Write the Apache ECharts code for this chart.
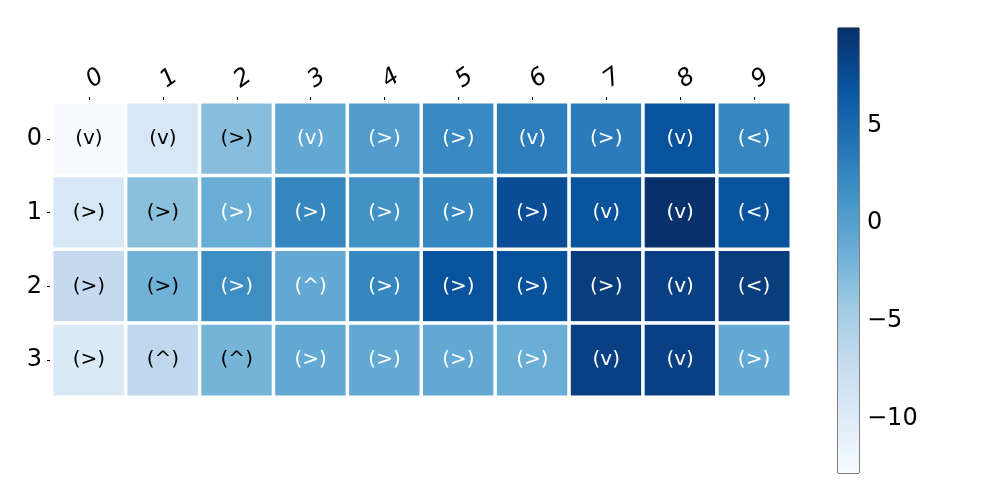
<!DOCTYPE html>
<html>
<head>
<meta charset="utf-8">
<script src="https://cdn.jsdelivr.net/npm/echarts@6/dist/echarts.min.js"></script>
<style>
  html, body { margin: 0; padding: 0; background: #fff; }
  #heat { width: 1000px; height: 500px; }
</style>
</head>
<body>
<div id="heat"></div>
<script>
var cols = ['0', '1', '2', '3', '4', '5', '6', '7', '8', '9']
var rows = ['0', '1', '2', '3']
// cell values, one array per row
var row0 = [-12.8, -9.2, -3.0, -0.9, 0.4, 2.2, 3.2, 3.4, 7.0, 2.5]
var row1 = [-9.2, -3.2, -1.3, 2.5, 1.4, 2.4, 7.5, 7.0, 10.0, 7.0]
var row2 = [-7.0, -1.7, 1.8, -0.9, 2.5, 7.0, 7.1, 8.9, 8.6, 8.9]
var row3 = [-9.6, -6.6, -2.0, -0.9, -0.9, -0.9, -1.3, 8.6, 8.6, -0.9]
// arrow text shown in each cell
var arrows0 = ['v', 'v', '>', 'v', '>', '>', 'v', '>', 'v', '<']
var arrows1 = ['>', '>', '>', '>', '>', '>', '>', 'v', 'v', '<']
var arrows2 = ['>', '>', '>', '^', '>', '>', '>', '>', 'v', '<']
var arrows3 = ['>', '^', '^', '>', '>', '>', '>', 'v', 'v', '>']
var cbTicks = [-10, -5, 0, 5]

var blues = ['#f7fbff', '#deebf7', '#c6dbef', '#9ecae1', '#6baed6', '#4292c6', '#2171b5', '#08519c', '#08306b']

function heat() {
	let myChart = echarts.init(document.getElementById('heat'))
	let vals = [row0, row1, row2, row3]
	let arrows = [arrows0, arrows1, arrows2, arrows3]
	let all = [].concat(row0, row1, row2, row3)
	let vmin = Math.min.apply(null, all)
	let vmax = Math.max.apply(null, all)

	let data = []
	for (let r = 0; r < rows.length; r++) {
		for (let c = 0; c < cols.length; c++) {
			let v = vals[r][c]
			data.push({
				value: [c, r, v],
				txt: '(' + arrows[r][c] + ')',
				label: { color: v > -1.5 ? '#fff' : '#000' }
			})
		}
	}

	let stops = blues.map(function (col, i) {
		return { offset: 1 - i / (blues.length - 1), color: col }
	})

	option = {
		animation: false,
		textStyle: { fontFamily: 'DejaVu Sans' },
		grid: [
			{ left: 52, top: 102, width: 739, height: 295 },
			{ left: 838, top: 28, width: 21, height: 445, show: true, borderColor: '#000', borderWidth: 1, backgroundColor: 'transparent' }
		],
		visualMap: {
			type: 'continuous',
			show: false,
			min: vmin,
			max: vmax,
			dimension: 2,
			seriesIndex: 0,
			inRange: { color: blues }
		},
		xAxis: [{
			type: 'category',
			gridIndex: 0,
			position: 'top',
			data: cols,
			axisLine: { show: false },
			axisTick: { show: true, alignWithLabel: true, length: 5, lineStyle: { color: '#000' } },
			axisLabel: { fontSize: 24, fontStyle: 'italic', color: '#000', rotate: -35, margin: 19 },
			splitLine: { show: false }
		}, {
			type: 'value',
			gridIndex: 1,
			min: 0,
			max: 1,
			show: false
		}],
		yAxis: [{
			type: 'category',
			gridIndex: 0,
			inverse: true,
			data: rows,
			axisLine: { show: false },
			axisTick: { show: true, alignWithLabel: true, length: 5, lineStyle: { color: '#000' } },
			axisLabel: { fontSize: 24, color: '#000', margin: 10 },
			splitLine: { show: false }
		}, {
			type: 'category',
			gridIndex: 0,
			position: 'right',
			data: rows,
			axisLine: { show: true, lineStyle: { color: '#2f6aa8', width: 1.5 } },
			axisTick: { show: false },
			axisLabel: { show: false }
		}, {
			type: 'value',
			gridIndex: 1,
			position: 'right',
			min: vmin,
			max: vmax,
			axisLine: { show: false },
			axisTick: { show: true, length: 5, customValues: cbTicks, lineStyle: { color: '#000' } },
			axisLabel: {
				fontSize: 24, color: '#000', margin: 8, customValues: cbTicks,
				formatter: function (v) { return String(v).replace('-', '\u2212') }
			},
			splitLine: { show: false }
		}],
		series: [{
			type: 'heatmap',
			xAxisIndex: 0,
			yAxisIndex: 0,
			data: data,
			itemStyle: { borderColor: '#fff', borderWidth: 3.5 },
			label: {
				show: true,
				fontSize: 20,
				fontFamily: 'DejaVu Sans',
				formatter: function (p) { return p.data.txt }
			}
		}, {
			type: 'custom',
			xAxisIndex: 1,
			yAxisIndex: 2,
			silent: true,
			data: [[0, vmin, vmax]],
			renderItem: function (params, api) {
				let p0 = api.coord([0, api.value(2)])
				let p1 = api.coord([1, api.value(1)])
				return {
					type: 'rect',
					shape: { x: p0[0], y: p0[1], width: p1[0] - p0[0], height: p1[1] - p0[1] },
					style: { fill: new echarts.graphic.LinearGradient(0, 0, 0, 1, stops.slice().reverse()) }
				}
			}
		}]
	}
	myChart.setOption(option);
}
heat()
</script>
</body>
</html>
